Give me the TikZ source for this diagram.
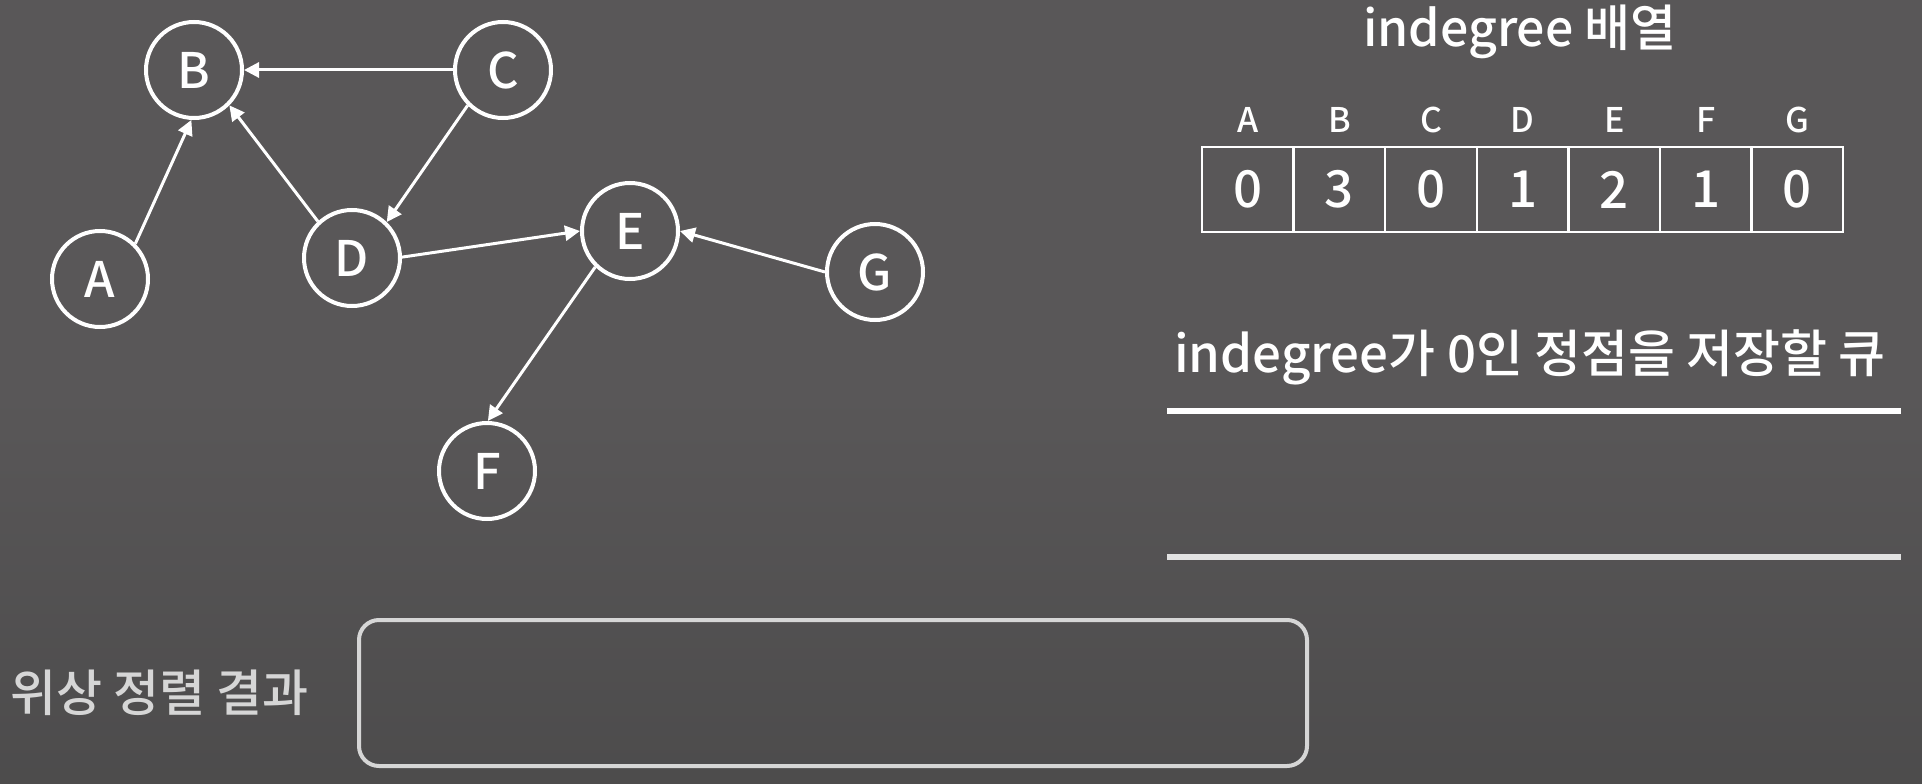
\documentclass[tikz,border=0pt]{standalone}
\usepackage{fontspec}
\setmainfont{Noto Sans CJK KR}[UprightFont={* Medium}]
\usetikzlibrary{arrows.meta}
\definecolor{bgtop}{RGB}{89,87,88}
\definecolor{bgbot}{RGB}{64,64,64}
\definecolor{soft}{RGB}{214,214,214}
\definecolor{qline}{RGB}{226,226,226}
\pgfdeclareverticalshading{bgshade}{100bp}{color(0bp)=(bgbot); color(50bp)=(bgtop); color(100bp)=(bgtop)}
\begin{document}
\begin{tikzpicture}[x=1pt,y=-1pt,
  vert/.style={circle, draw=white, line width=4pt, minimum size=96pt, inner sep=0pt, text=white, font=\fontsize{49}{52}\selectfont},
  edge/.style={draw=white, line width=3pt, -{Triangle[length=15pt,width=15pt]}},
  cell/.style={draw=white, line width=2.5pt, minimum width=91.6pt, minimum height=85pt, inner sep=0pt, text=white, font=\fontsize{51}{54}\selectfont},
  hdr/.style={anchor=base, inner sep=0pt, text=white, font=\fontsize{34}{38}\selectfont},
  title/.style={anchor=base, inner sep=0pt, text=white, font=\fontsize{50}{56}\selectfont}]
\shade[shading=bgshade] (0,0) rectangle (1922,784);
\useasboundingbox (0,0) rectangle (1922,784);
% graph
\node[vert] (A) at (100,279) {A};
\node[vert] (B) at (194,70) {B};
\node[vert] (C) at (503,70) {C};
\node[vert] (D) at (352,258) {D};
\node[vert] (E) at (630,231) {E};
\node[vert] (G) at (875,272) {G};
\node[vert] (F) at (487,471) {F};
\draw[edge] (A.45) -- (B.267);
\draw[edge] (C.180) -- (B.0);
\draw[edge] (D.133) -- (B.-45);
\draw[edge] (C.225) -- (D.46);
\draw[edge] (D.1) -- (E.180);
\draw[edge] (G.180) -- (E.0);
\draw[edge] (E.226) -- (F.89);
% indegree table
\node[title] (t1) at (1520,47) {indegree 배열};
\foreach \i/\l/\v in {0/A/0,1/B/3,2/C/0,3/D/1,4/E/2,5/F/1,6/G/0}{
  \node[hdr] (h\l) at ({1247.8+91.6*\i},132) {\l};
  \node[cell] (c\l) at ({1247.8+91.6*\i},189.5) {\v};
}
% queue
\node[title, font=\fontsize{51}{56}\selectfont] (t2) at (1530,372) {indegree가 0인 정점을 저장할 큐};
\coordinate (q1a) at (1167,411);
\coordinate (q1b) at (1901,411);
\coordinate (q2a) at (1167,557);
\coordinate (q2b) at (1901,557);
\draw[white, line width=6pt] (q1a) -- (q1b);
\draw[qline, line width=6pt] (q2a) -- (q2b);
% result
\node[anchor=base west, inner sep=0pt, text=soft, font=\fontsize{50}{56}\selectfont] (rl) at (10,711) {위상 정렬 결과};
\node[draw=soft, line width=4pt, rounded corners=20pt, minimum width=948pt, minimum height=146pt, inner sep=0pt] (res) at (833,693) {};
\end{tikzpicture}
\end{document}
